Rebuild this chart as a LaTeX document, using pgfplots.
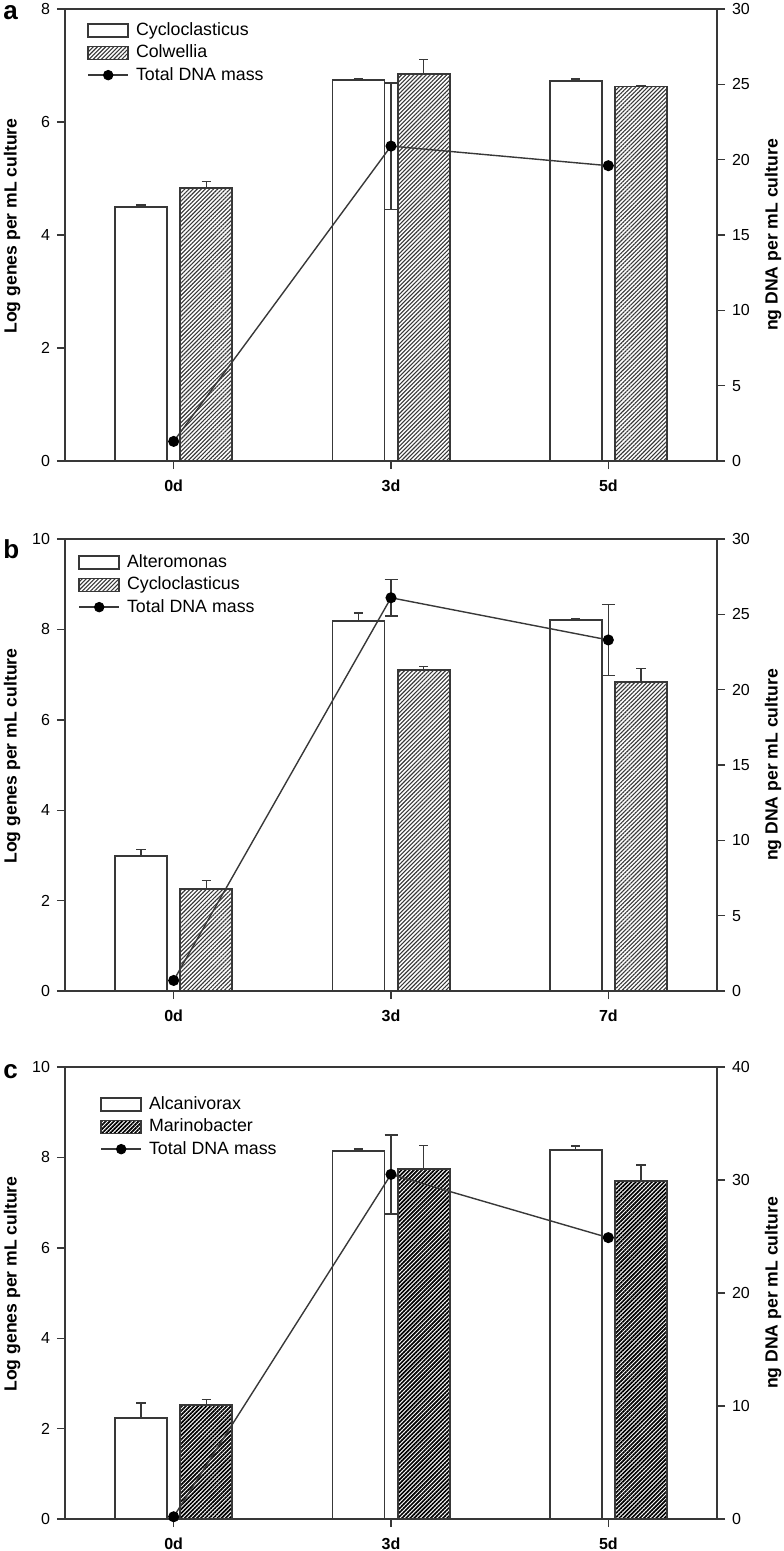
\documentclass[border=0pt]{standalone}
\usepackage{fontspec}
\setmainfont{Liberation Sans}
\usepackage{pgfplots}
\pgfplotsset{compat=1.18}
\usetikzlibrary{patterns.meta}

\definecolor{axgray}{gray}{0.22}

% one category = 108pt, bars 26pt wide, centred 0.15 either side of the tick
\pgfplotsset{
  panel/.style={
    width=326pt, height=226pt, scale only axis,
    xmin=-0.5, xmax=2.5, xtick={0,1,2},
    tick align=outside, major tick length=4pt,
    axis line style={axgray, line width=0.9pt},
    every tick/.style={axgray, line width=0.7pt},
    yticklabel style={font=\fontsize{8}{9}\selectfont},
    /pgf/number format/assume math mode=true,
  },
  leftax/.style={panel, xtick pos=left, ytick pos=left, ymin=0,
    xticklabel style={font=\bfseries\fontsize{8}{9}\selectfont, yshift=-2pt},
    ylabel={Log genes per mL culture},
    every axis y label/.style={at={(axis description cs:-0.0813,0.52)}, anchor=center, rotate=90,
      font=\bfseries\fontsize{8.8}{10}\selectfont},
  },
  rightax/.style={panel, axis x line=none, axis y line*=right, ymin=0,
    ylabel={ng DNA per mL culture},
    every axis y label/.style={at={(axis description cs:1.0859,0.5)}, anchor=center, rotate=90,
      font=\bfseries\fontsize{8.8}{10}\selectfont},
    legend cell align=left,
    legend style={draw=none, fill=none, inner sep=0pt, anchor=north west,
      font=\fontsize{8.9}{10}\selectfont, row sep=0pt,
      nodes={inner ysep=1.6pt, inner xsep=0pt},
      /tikz/column 1/.style={column sep=3.5pt}},
  },
  barbase/.style={ybar, bar width=26pt, bar shift=0pt, draw=axgray, line width=0.9pt,
    error bars/y dir=plus, error bars/y explicit,
    error bars/error bar style={axgray, line width=0.7pt},
    error bars/error mark options={rotate=90, axgray, mark size=2.3pt, line width=0.7pt}},
  openbar/.style={barbase, fill=white},
  hatchbar/.style={barbase, fill=white,
    postaction={pattern={Lines[angle=45, distance=1.45pt, line width=0.55pt]}, pattern color=axgray}},
  darkhatchbar/.style={barbase, fill=white,
    postaction={pattern={Lines[angle=45, distance=1.45pt, line width=0.85pt]}, pattern color=black}},
  dnaline/.style={axgray, line width=0.7pt, mark=*, mark size=2.4pt,
    mark options={fill=black, draw=black},
    error bars/y dir=both, error bars/y explicit,
    error bars/error bar style={axgray, line width=0.7pt},
    error bars/error mark options={rotate=90, axgray, mark size=3.25pt, line width=0.7pt}},
  boxlegend/.style={legend image code/.code={\draw[##1, line width=0.8pt] (0pt,-3.25pt) rectangle (20pt,3.25pt);}},
  linelegend/.style={legend image code/.code={
      \draw[axgray, line width=0.7pt] (0pt,0pt) -- (20pt,0pt);
      \fill[black] (10pt,0pt) circle (2.4pt);}},
}

\begin{document}
\begin{tikzpicture}
\useasboundingbox (0,0) rectangle (391.5pt,-775.5pt);

% ---------------- panel a ----------------
\node[anchor=base west, font=\bfseries\fontsize{13}{15}\selectfont, inner sep=0pt] at (1.5pt,-10pt) {a};
\begin{axis}[leftax, at={(32.5pt,-230.5pt)}, anchor=south west,
  ymax=8, ytick={0,2,4,6,8}, xticklabels={0d,3d,5d}]
\addplot[openbar] coordinates {(-0.15,4.50) +- (0,0.03) (0.85,6.74) +- (0,0.03) (1.85,6.72) +- (0,0.04)};
\addplot[hatchbar] coordinates {(0.15,4.83) +- (0,0.12) (1.15,6.85) +- (0,0.26) (2.15,6.63) +- (0,0.01)};
\end{axis}
\begin{axis}[rightax, at={(32.5pt,-230.5pt)}, anchor=south west,
  ymax=30, ytick={0,5,10,15,20,25,30},
  legend style={at={(axis description cs:0,1)}, xshift=11pt, yshift=-5pt}]
\addlegendimage{boxlegend, draw=axgray, fill=white}
\addlegendentry{Cycloclasticus}
\addlegendimage{boxlegend, draw=axgray, fill=white, postaction={pattern={Lines[angle=45, distance=1.45pt, line width=0.55pt]}, pattern color=axgray}}
\addlegendentry{Colwellia}
\addlegendimage{linelegend}
\addlegendentry{Total DNA mass}
\addplot[dnaline, forget plot] coordinates {(0,1.3) +- (0,0) (1,20.9) +- (0,4.2) (2,19.6) +- (0,0)};
\end{axis}

% ---------------- panel b ----------------
\node[anchor=base west, font=\bfseries\fontsize{13}{15}\selectfont, inner sep=0pt] at (1.5pt,-279pt) {b};
\begin{axis}[leftax, at={(32.5pt,-495.5pt)}, anchor=south west,
  ymax=10, ytick={0,2,4,6,8,10}, xticklabels={0d,3d,7d}]
\addplot[openbar] coordinates {(-0.15,2.98) +- (0,0.15) (0.85,8.19) +- (0,0.17) (1.85,8.20) +- (0,0.04)};
\addplot[hatchbar] coordinates {(0.15,2.25) +- (0,0.20) (1.15,7.10) +- (0,0.08) (2.15,6.84) +- (0,0.30)};
\end{axis}
\begin{axis}[rightax, at={(32.5pt,-495.5pt)}, anchor=south west,
  ymax=30, ytick={0,5,10,15,20,25,30},
  legend style={at={(axis description cs:0,1)}, xshift=6.5pt, yshift=-6pt}]
\addlegendimage{boxlegend, draw=axgray, fill=white}
\addlegendentry{Alteromonas}
\addlegendimage{boxlegend, draw=axgray, fill=white, postaction={pattern={Lines[angle=45, distance=1.45pt, line width=0.55pt]}, pattern color=axgray}}
\addlegendentry{Cycloclasticus}
\addlegendimage{linelegend}
\addlegendentry{Total DNA mass}
\addplot[dnaline, forget plot] coordinates {(0,0.7) +- (0,0) (1,26.1) +- (0,1.2) (2,23.3) +- (0,2.37)};
\end{axis}

% ---------------- panel c ----------------
\node[anchor=base west, font=\bfseries\fontsize{13}{15}\selectfont, inner sep=0pt] at (1.5pt,-539pt) {c};
\begin{axis}[leftax, at={(32.5pt,-759.5pt)}, anchor=south west,
  ymax=10, ytick={0,2,4,6,8,10}, xticklabels={0d,3d,5d}]
\addplot[openbar] coordinates {(-0.15,2.24) +- (0,0.33) (0.85,8.14) +- (0,0.05) (1.85,8.17) +- (0,0.08)};
\addplot[darkhatchbar] coordinates {(0.15,2.53) +- (0,0.12) (1.15,7.74) +- (0,0.52) (2.15,7.47) +- (0,0.36)};
\end{axis}
\begin{axis}[rightax, at={(32.5pt,-759.5pt)}, anchor=south west,
  ymax=40, ytick={0,10,20,30,40},
  legend style={at={(axis description cs:0,1)}, xshift=17.5pt, yshift=-13pt}]
\addlegendimage{boxlegend, draw=axgray, fill=white}
\addlegendentry{Alcanivorax}
\addlegendimage{boxlegend, draw=axgray, fill=white, postaction={pattern={Lines[angle=45, distance=1.45pt, line width=0.85pt]}, pattern color=black}}
\addlegendentry{Marinobacter}
\addlegendimage{linelegend}
\addlegendentry{Total DNA mass}
\addplot[dnaline, forget plot] coordinates {(0,0.2) +- (0,0) (1,30.5) +- (0,3.5) (2,24.9) +- (0,0)};
\end{axis}
\end{tikzpicture}
\end{document}
